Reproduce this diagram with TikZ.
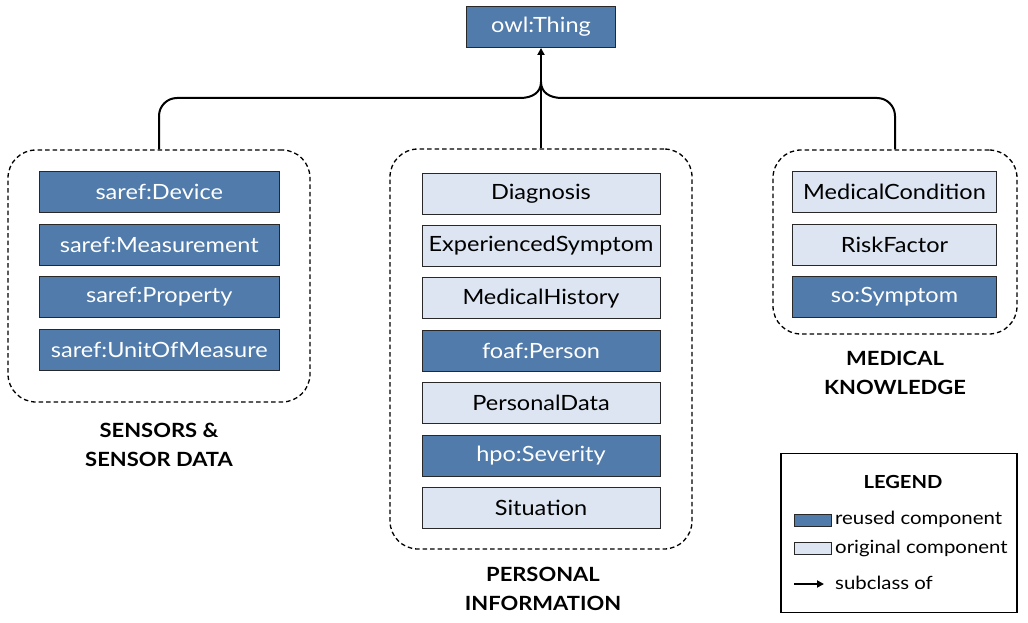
\documentclass[tikz,border=0pt]{standalone}
\usepackage{fontspec}
\setmainfont[FakeStretch=1.12]{Lato}
\usetikzlibrary{arrows.meta}
\definecolor{dblue}{RGB}{80,123,170}
\definecolor{lblue}{RGB}{220,229,241}
\definecolor{edge}{RGB}{40,40,40}
\begin{document}
\begin{tikzpicture}[x=1pt,y=-1pt,
  comp/.style={rectangle,draw=edge,line width=0.9pt,minimum height=41pt,inner sep=0pt,font=\fontsize{21}{24}\selectfont},
  reused/.style={comp,fill=dblue,text=white},
  orig/.style={comp,fill=lblue,text=black},
  grp/.style={rectangle,draw=black,line width=1.3pt,dash pattern=on 4.5pt off 3pt,rounded corners=28pt,inner sep=0pt},
  glabel/.style={align=center,font=\fontsize{19.6}{28.5}\selectfont\bfseries},
  ltext/.style={anchor=west,inner sep=0pt,font=\fontsize{18.2}{21}\selectfont},
  conn/.style={line width=2pt,black},
  tip/.style={-{Triangle[length=7pt,width=7pt]}}
]
\useasboundingbox (0,0) rectangle (1028,623);

% top node
\node[reused,minimum width=149pt] (owl) at (541,27) {owl:Thing};

% groups
\node[grp,minimum width=302pt,minimum height=252pt] (gl) at (159,276) {};
\node[grp,minimum width=302pt,minimum height=400pt] (gm) at (541,349) {};
\node[grp,minimum width=244pt,minimum height=184pt] (gr) at (895,242) {};

% left boxes
\node[reused,minimum width=240pt] (l1) at (159.3,192) {saref:Device};
\node[reused,minimum width=240pt] (l2) at (159.3,244.5) {saref:Measurement};
\node[reused,minimum width=240pt] (l3) at (159.3,297) {saref:Property};
\node[reused,minimum width=240pt] (l4) at (159.3,349.5) {saref:UnitOfMeasure};

% middle boxes
\node[orig,minimum width=238pt] (m1) at (541,193.6) {Diagnosis};
\node[orig,minimum width=238pt] (m2) at (541,246) {ExperiencedSymptom};
\node[orig,minimum width=238pt] (m3) at (541,298.4) {MedicalHistory};
\node[reused,minimum width=238pt] (m4) at (541,350.8) {foaf:Person};
\node[orig,minimum width=238pt] (m5) at (541,403.2) {PersonalData};
\node[reused,minimum width=238pt] (m6) at (541,455.6) {hpo:Severity};
\node[orig,minimum width=238pt] (m7) at (541,508) {Situation};

% right boxes
\node[orig,minimum width=204pt] (r1) at (894.5,192) {MedicalCondition};
\node[orig,minimum width=204pt] (r2) at (894.5,244.5) {RiskFactor};
\node[reused,minimum width=204pt] (r3) at (894.5,297) {so:Symptom};

% group labels
\node[glabel] (tl) at (159,445) {SENSORS \&\\SENSOR DATA};
\node[glabel] (tm) at (543,589) {PERSONAL\\INFORMATION};
\node[glabel] (tr) at (895,373) {MEDICAL\\KNOWLEDGE};

% connectors
\coordinate (join) at (541,82);
\coordinate (lh) at (520,98);
\coordinate (rh) at (562,98);
\draw[conn,rounded corners=18pt] (gl.north) |- (lh);
\draw[conn] (lh) .. controls (533,98) and (541,92) .. (join);
\draw[conn,rounded corners=18pt] (gr.north) |- (rh);
\draw[conn] (rh) .. controls (549,98) and (541,92) .. (join);
\draw[conn,tip] (gm.north) -- (owl.south);

% legend
\node[rectangle,draw=black,line width=1.3pt,minimum width=236pt,minimum height=159pt,inner sep=0pt] (leg) at (899,533) {};
\node[font=\fontsize{18}{21}\selectfont\bfseries] (legt) at (903,482) {LEGEND};
\node[rectangle,draw=edge,line width=0.8pt,fill=dblue,minimum width=37pt,minimum height=12pt,inner sep=0pt] (sw1) at (812.5,520) {};
\node[rectangle,draw=edge,line width=0.8pt,fill=lblue,minimum width=37pt,minimum height=12pt,inner sep=0pt] (sw2) at (812.5,548.5) {};
\node[ltext] (lt1) at (835,519) {reused component};
\node[ltext] (lt2) at (835,548.5) {original component};
\node[ltext] (lt3) at (835,583) {subclass of};
\coordinate (a1) at (794,584);
\coordinate (a2) at (824,584);
\draw[conn,tip] (a1) -- (a2);
\end{tikzpicture}
\end{document}
